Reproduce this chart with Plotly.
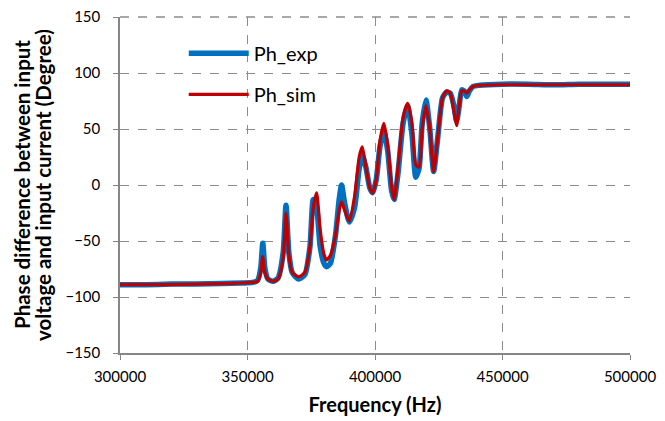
import plotly.graph_objects as go

# frequency grid (Hz) and phase values (degree)
freq = [300000, 310000, 320000, 330000, 340000, 348000, 352000, 354000, 355200, 356000,
        356800, 358000, 360000, 362000, 364000, 365100, 366200, 367500, 370000, 372500,
        374500, 375800, 377100, 378500, 380000, 381000, 382500, 384500, 386000, 386900,
        388000, 389900, 392000, 393800, 395000, 396500, 398000, 399100, 400500, 402000,
        403500, 405000, 406500, 407500, 409000, 411000, 412800, 414500, 416000, 417300,
        418500, 420000, 421500, 423000, 424500, 426500, 428100, 429500, 431000, 432000,
        433000, 434000, 435000, 436000, 437000, 438500, 441000, 450000, 460000, 470000,
        480000, 490000, 500000]

ph_exp = [-89, -89, -88.5, -88.5, -88, -87.5, -87, -85, -74, -52,
          -74, -84, -86, -83, -60, -18, -60, -78, -84, -80,
          -55, -13, -20, -55, -70, -73, -70, -45, -12, 0,
          -15, -33, -20, 15, 27, 15, -3, -7, 5, 35,
          48, 30, -5, -13, 10, 55, 71, 45, 7, 15,
          55, 76, 50, 12, 40, 78, 83, 82, 70, 57,
          70, 85, 84, 79, 84, 88, 89, 90, 90, 89.5,
          90, 90, 90]

ph_sim = [-89, -89, -89, -88.5, -88, -87.5, -87, -86, -78, -64,
          -78, -84, -86, -84, -65, -25, -62, -78, -82, -78,
          -55, -20, -7, -40, -62, -67, -63, -45, -22, -15,
          -22, -32, -10, 25, 34, 15, -3, -7, 5, 40,
          55, 35, -2, -13, 15, 60, 73, 55, 18, 16,
          50, 71, 50, 12, 40, 78, 84, 82, 65, 53,
          70, 84, 84, 82, 85, 88, 89, 89.5, 89.5, 89.5,
          89.5, 89.5, 89.5]

y_title_lines = ['Phase difference between input', 'voltage and input current (Degree)']
y_ticks = [-150, -100, -50, 0, 50, 100, 150]

fig = go.Figure()

fig.add_trace(go.Scatter(
    x=freq, y=ph_exp, mode='lines', name='Ph_exp',
    line=dict(color='#0070C0', width=5.5, shape='spline', smoothing=0.6),
    legendgroup='exp'))

fig.add_trace(go.Scatter(
    x=freq, y=ph_sim, mode='lines', name='Ph_sim',
    line=dict(color='#C00000', width=3.2, shape='spline', smoothing=0.6),
    legendgroup='sim'))

font = 'Lato, Open Sans, sans-serif'
grid = '#8c8c8c'

# the page body adds an 8px offset, so the figure is sized 8px smaller
fig.update_layout(
    width=657, height=413,
    margin=dict(l=112, r=35, t=9, b=68),
    plot_bgcolor='white', paper_bgcolor='white',
    font=dict(family=font, size=16, color='black'),
    legend=dict(x=0.125, y=0.95, xanchor='left', yanchor='top',
                bgcolor='rgba(0,0,0,0)', font=dict(size=20),
                tracegroupgap=12, itemwidth=60),
)

# two-line y title, drawn as rotated annotations for tighter line spacing
for txt, shift in zip(y_title_lines, [-98, -77]):
    fig.add_annotation(text='<b>' + txt + '</b>', textangle=-90,
                       xref='paper', yref='paper', x=0, y=0.5,
                       xanchor='center', yanchor='middle', xshift=shift,
                       showarrow=False, font=dict(size=20.5))

# top gridline (plotly drops the one sitting on the plot edge)
fig.add_shape(type='line', xref='paper', yref='paper', x0=0, x1=1,
              y0=1, y1=1, layer='below',
              line=dict(color=grid, width=1.4, dash='dash'))

fig.update_xaxes(
    title=dict(text='<b>Frequency (Hz)</b>', font=dict(size=20), standoff=14),
    range=[300000, 500000], dtick=50000, tickformat='d',
    showline=True, linecolor='#868686', linewidth=1.5,
    ticks='outside', ticklen=5, tickcolor='#868686', ticklabelstandoff=4,
    showgrid=True, gridcolor=grid, griddash='dash', gridwidth=1.4,
    zeroline=False, automargin=False, tickfont=dict(size=15))

fig.update_yaxes(
    range=[-150, 150], tickvals=y_ticks,
    showline=True, linecolor='#868686', linewidth=1.5,
    ticks='outside', ticklen=5, tickcolor='#868686', ticklabelstandoff=10,
    ticklabeloverflow='allow',
    showgrid=True, gridcolor=grid, griddash='dash', gridwidth=1.4,
    zeroline=False, automargin=False, tickfont=dict(size=15))

fig.write_html("out.html")
